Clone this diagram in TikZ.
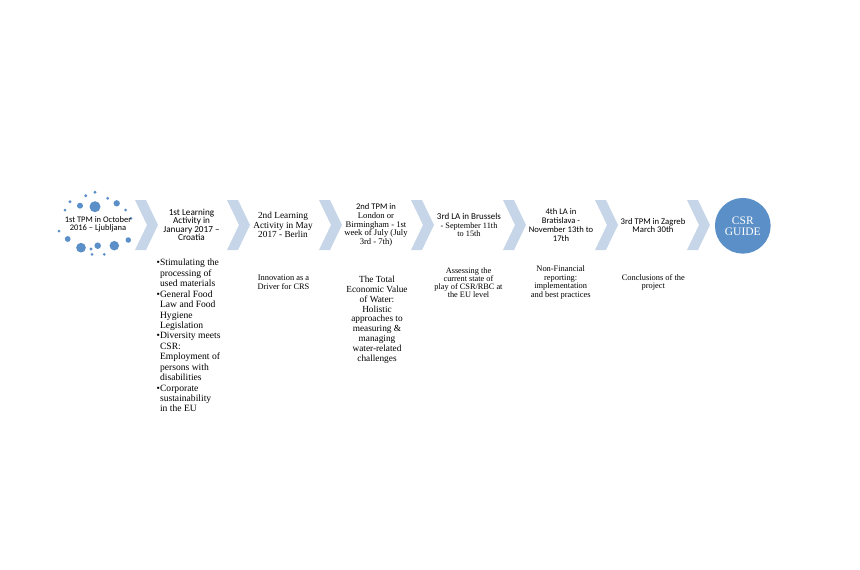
\documentclass[tikz,border=0pt]{standalone}
\usepackage{fontspec}
\setmainfont{Liberation Serif}
\newfontfamily\calibri{Carlito}
\usetikzlibrary{positioning}
\definecolor{dotblue}{RGB}{91,143,199}
\definecolor{chevblue}{RGB}{199,213,233}
\tikzset{
  stage/.style={align=center, inner sep=0pt, text=black},
  sanslbl/.style={stage, font=\calibri\fontsize{8.8}{8.9}\selectfont},
  seriflbl/.style={stage, font=\fontsize{9.3}{9.7}\selectfont},
  topic/.style={stage, font=\fontsize{9.6}{10.43}\selectfont},
  smalltopic/.style={stage, font=\fontsize{8.4}{8.4}\selectfont},
  guide/.style={circle, fill=dotblue, minimum size=55.7pt, inner sep=0pt,
    align=center, text=white, font=\fontsize{11.5}{11}\selectfont}
}
\newcommand{\cont}{\phantom{\textbullet}}

\begin{document}
\begin{tikzpicture}[x=1pt, y=-1pt]
    \path[use as bounding box] (0,0) rectangle (860,570);
    % ring of dots
    \foreach \x/\y/\d in {95/192.3/3.2, 85.7/195.7/3.2, 107.7/198.3/3.2,
        70/201.7/3.2, 80/205.7/6, 95/206.7/11, 116.7/203.3/6.3, 65/210/3,
        125.7/210/3, 131/218.3/3, 59/231/3, 67.7/239/5.8, 81/247.7/9.7,
        91/249/3.2, 97.7/245.7/6.5, 114.3/245.7/9.5, 128.3/240/5.5,
        92/254.3/3, 104.3/254.3/3}
        \fill[dotblue] (\x,\y) circle ({\d/2});
    \node[sanslbl, font=\calibri\fontsize{8.5}{8.3}\selectfont] (tpm1) at (98,224.5)
        {1st TPM in October\\2016 – Ljubljana};
    % chevrons
    \foreach \i in {0,...,6}
        \fill[chevblue] ({135+92*\i},200) -- ++(11,0) -- ++(12,25) -- ++(-12,25)
            -- ++(-11,0) -- ++(12,-25) -- cycle;
    \node[guide] (csr) at (742.8,225.8) {CSR\\GUIDE};

    \node[sanslbl, font=\calibri\fontsize{9.2}{8.4}\selectfont] (la1) at (191.5,225)
        {1st Learning\\Activity in\\January 2017 –\\Croatia};
    \node[seriflbl] (la2) at (283,225) {2nd Learning\\Activity in May\\2017 - Berlin};
    \node[seriflbl, font=\fontsize{8.6}{8.8}\selectfont] (tpm2) at (376,225)
        {{\calibri 2nd TPM in}\\London or\\Birmingham - 1st\\week of July (July\\3rd - 7th)};
    \node[sanslbl, font=\calibri\fontsize{9}{8.3}\selectfont] (la3) at (469,225)
        {3rd LA in Brussels\\{\rmfamily\fontsize{8.3}{8.3}\selectfont - September 11th}\\{\rmfamily\fontsize{8.3}{8.3}\selectfont to 15th}};
    \node[sanslbl, font=\calibri\fontsize{8.6}{8.9}\selectfont] (la4) at (561,225)
        {4th LA in\\Bratislava -\\November 13th to\\17th};
    \node[sanslbl, font=\calibri\fontsize{8.7}{8.3}\selectfont] (tpm3) at (653,225.8)
        {3rd TPM in Zagreb\\March 30th};

    \node[topic, align=left, anchor=north west] (topics1) at (156.5,259)
        {\textbullet Stimulating the\\\cont processing of\\\cont used materials\\
         \textbullet General Food\\\cont Law and Food\\\cont Hygiene\\\cont Legislation\\
         \textbullet Diversity meets\\\cont CSR:\\\cont Employment of\\\cont persons with\\\cont disabilities\\
         \textbullet Corporate\\\cont sustainability\\\cont in the EU};
    \node[smalltopic, font=\fontsize{8.4}{8.6}\selectfont] (topics2) at (283.5,282.5)
        {Innovation as a\\Driver for CRS};
    \node[topic, font=\fontsize{9.3}{9.9}\selectfont] (topics3) at (377,319.7)
        {The Total\\Economic Value\\of Water:\\Holistic\\approaches to\\measuring \&\\managing\\water-related\\challenges};
    \node[smalltopic, font=\fontsize{8.3}{8}\selectfont] (topics4) at (468.5,282.3)
        {Assessing the\\current state of\\play of CSR/RBC at\\the EU level};
    \node[smalltopic, font=\fontsize{8.4}{8.6}\selectfont] (topics5) at (560.7,282.3)
        {Non-Financial\\reporting:\\implementation\\and best practices};
    \node[smalltopic] (topics6) at (653.3,282.5) {Conclusions of the\\project};
\end{tikzpicture}
\end{document}
